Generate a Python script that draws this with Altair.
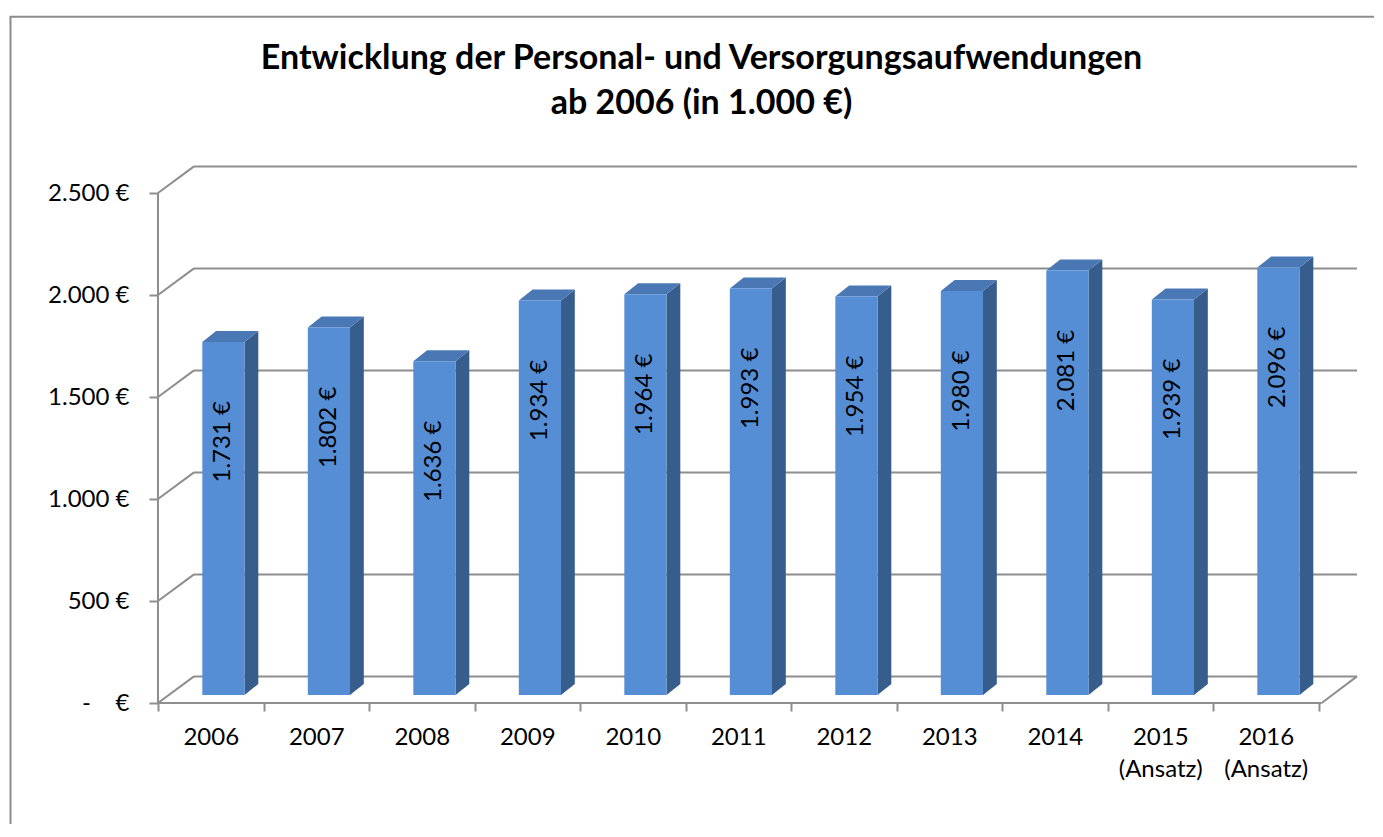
import altair as alt
import pandas as pd

# ---- data ----
years = ["2006", "2007", "2008", "2009", "2010", "2011", "2012", "2013", "2014", "2015", "2016"]
year_sub = ["", "", "", "", "", "", "", "", "", "(Ansatz)", "(Ansatz)"]
values = [1731, 1802, 1636, 1934, 1964, 1993, 1954, 1980, 2081, 1939, 2096]
y_ticks = [0, 500, 1000, 1500, 2000, 2500]
y_tick_labels = ["-\u00a0\u00a0\u00a0\u00a0€", "500 €", "1.000 €", "1.500 €", "2.000 €", "2.500 €"]
title_lines = ["Entwicklung der Personal- und Versorgungsaufwendungen", "ab 2006 (in 1.000 €)"]

# ---- geometry / style constants ----
W, H = 1199, 537
SLOT = 105.5                 # px per category
PXU = 0.204                  # px per value unit
XMAX = W / SLOT
YMAX = H / PXU
WDX, WDY = 36 / SLOT, 26.6 / PXU      # wall depth
FL, FR = 0.42, 0.82                    # bar front face within slot
BDX, BDY = 13.8 / SLOT, 11 / PXU       # bar depth
BASE = 8 / PXU
FRONT, TOP, SIDE = "#558ED5", "#4A78B5", "#375D8C"
GRID = "#8e8e8e"
FONT = "Lato"
n = len(years)

# ---- tables built from the arrays ----
segs = []
segs.append(dict(x=0, x2=0, y=0, y2=y_ticks[-1]))               # y axis line
for v in y_ticks:
    segs.append(dict(x=0, x2=WDX, y=v, y2=v + WDY))             # left wall
    segs.append(dict(x=WDX, x2=XMAX, y=v + WDY, y2=v + WDY))    # back wall
segs.append(dict(x=0, x2=n + 0.03, y=0, y2=0))                  # floor front
segs.append(dict(x=n + 0.03, x2=XMAX, y=0, y2=WDY))             # floor right
seg_df = pd.DataFrame(segs)

front_rows, side_rows, top_rows, lab_rows = [], [], [], []
for i, v in enumerate(values):
    xl, xr = i + FL, i + FR
    t = BASE + v
    front_rows.append(dict(x=xl, x2=xr, y=BASE, y2=t))
    side_rows += [dict(bar=i, x=xr, y=t, y2=BASE),
                  dict(bar=i, x=xr + BDX, y=t + BDY, y2=BASE + BDY)]
    top_rows += [dict(bar=i, x=xl, y=t, y2=t),
                 dict(bar=i, x=xl + BDX, y=t + BDY, y2=t),
                 dict(bar=i, x=xr, y=t + BDY, y2=t),
                 dict(bar=i, x=xr + BDX, y=t + BDY, y2=t + BDY)]
    lab_rows.append(dict(x=(xl + xr) / 2, y=t - 490,
                         label=f"{v:,}".replace(",", ".") + " €"))

# ---- axes ----
lab_js = []
for yv, s in zip(years, year_sub):
    lab_js.append(f"['{yv}','{s}']" if s else f"'{yv}'")
lab_js.append("''")
x_label_expr = "[" + ",".join(lab_js) + "][datum.value]"
y_label_expr = "[" + ",".join(f"'{s}'" for s in y_tick_labels) + "][round(datum.value/500)]"

xaxis = alt.Axis(values=list(range(n + 1)), labelExpr=x_label_expr, labelOffset=SLOT / 2,
                 labelFlush=False, labelOverlap=False, labelFont=FONT, labelFontSize=24,
                 labelColor="black", labelPadding=14, labelLineHeight=32,
                 tickSize=8, tickColor=GRID, tickWidth=2, domain=False, grid=False, title=None)
yaxis = alt.Axis(values=y_ticks, labelExpr=y_label_expr, labelFont=FONT, labelFontSize=24,
                 labelColor="black", labelPadding=20, tickSize=9, tickColor=GRID, tickWidth=2,
                 domain=False, grid=False, title=None)

X = alt.X("x:Q", scale=alt.Scale(domain=[0, XMAX], nice=False, zero=False), axis=xaxis)
Y = alt.Y("y:Q", scale=alt.Scale(domain=[0, YMAX], nice=False, zero=False), axis=yaxis)

grid = alt.Chart(seg_df).mark_rule(color=GRID, strokeWidth=2).encode(
    x=X, y=Y, x2="x2:Q", y2="y2:Q")
side = alt.Chart(pd.DataFrame(side_rows)).mark_area(color=SIDE, interpolate="linear").encode(
    x=X, y=Y, y2="y2:Q", detail="bar:N")
top = alt.Chart(pd.DataFrame(top_rows)).mark_area(color=TOP, interpolate="linear").encode(
    x=X, y=Y, y2="y2:Q", detail="bar:N")
front = alt.Chart(pd.DataFrame(front_rows)).mark_rect(color=FRONT).encode(
    x=X, x2="x2:Q", y=Y, y2="y2:Q")
labels = alt.Chart(pd.DataFrame(lab_rows)).mark_text(
    angle=270, align="center", baseline="middle", font=FONT, fontSize=24, color="black"
).encode(x=X, y=Y, text="label:N")
frame = alt.Chart(alt.Data(values=[{"a": 1}])).mark_rect(
    filled=False, stroke="#8c8c8c", strokeWidth=2
).encode(x=alt.value(-147.5), x2=alt.value(W + 400), y=alt.value(-149.3), y2=alt.value(H + 400))

chart = alt.layer(grid, side, top, front, labels, frame).properties(
    width=W, height=H,
    autosize=alt.AutoSizeParams(type="none"),
    padding={"left": 150, "top": 158, "right": 17, "bottom": 121},
    title=alt.Title(text=title_lines, font=FONT, fontSize=34, fontWeight="bold", color="black",
                    anchor="middle", frame="group", dx=-56, dy=105, offset=0,
                    baseline="top", lineHeight=45),
).configure_view(stroke=None)

chart.save("out.html", embed_options={"renderer": "svg", "actions": False})
